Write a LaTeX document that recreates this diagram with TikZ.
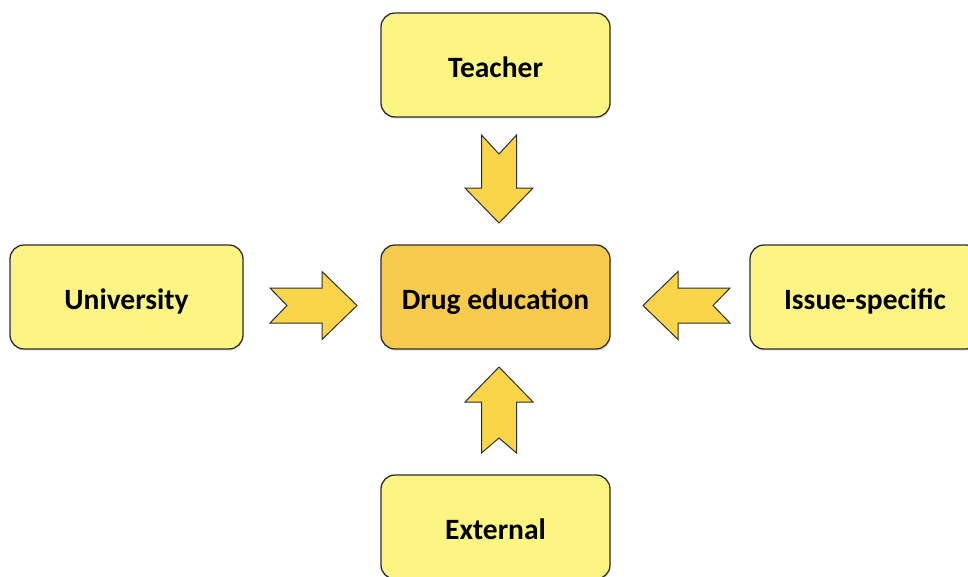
\documentclass[tikz,border=0pt]{standalone}
\usepackage{fontspec}
\setmainfont{Carlito}
\usetikzlibrary{shadows}
\definecolor{boxfill}{HTML}{FCF584}
\definecolor{centerfill}{HTML}{F8CB4C}
\definecolor{arrowfill}{HTML}{FAD449}
\definecolor{edgecol}{HTML}{2E2E2E}
\tikzset{
  boxnode/.style={draw=edgecol, line width=1.3pt, fill=boxfill, rounded corners=14pt,
    minimum width=229pt, minimum height=104pt, inner sep=0pt,
    text height=26pt, text depth=2pt,
    font=\fontsize{29.5}{34}\selectfont\bfseries,
    drop shadow={opacity=0.25, shadow xshift=0.6pt, shadow yshift=-1.6pt}},
  centerbox/.style={boxnode, fill=centerfill},
  blockarrow/.style={draw=edgecol, line width=1pt, fill=arrowfill, line join=miter}
}
\begin{document}
\begin{tikzpicture}[x=1pt, y=-1pt]
\useasboundingbox (0,0) rectangle (968,576);
\node[boxnode] (teacher) at (495.5,65) {Teacher};
\node[boxnode, minimum width=233pt] (univ) at (126.5,297) {University};
\node[centerbox] (drug) at (495.5,297) {Drug education};
\node[boxnode, minimum width=230pt] (issue) at (865,297) {Issue-specific};
\node[boxnode] (ext) at (495.5,527) {External};
% right-pointing arrow (University -> Drug education)
\draw[blockarrow, shift={(270,305.5)}] (0,-17.5) -- (52,-17.5) -- (52,-34) -- (87,0) -- (52,34) -- (52,17.5) -- (0,17.5) -- (17,0) -- cycle;
% left-pointing arrow (Issue-specific -> Drug education)
\draw[blockarrow, shift={(730,305.5)}, xscale=-1] (0,-17.5) -- (52,-17.5) -- (52,-34) -- (87,0) -- (52,34) -- (52,17.5) -- (0,17.5) -- (17,0) -- cycle;
% down-pointing arrow (Teacher -> Drug education)
\draw[blockarrow, shift={(499,135)}] (-17.5,0) -- (-17.5,53) -- (-34,53) -- (0,88) -- (34,53) -- (17.5,53) -- (17.5,0) -- (0,19) -- cycle;
% up-pointing arrow (External -> Drug education)
\draw[blockarrow, shift={(499,453)}, yscale=-1] (-17.5,0) -- (-17.5,51) -- (-34,51) -- (0,86) -- (34,51) -- (17.5,51) -- (17.5,0) -- (0,15) -- cycle;
\end{tikzpicture}
\end{document}
